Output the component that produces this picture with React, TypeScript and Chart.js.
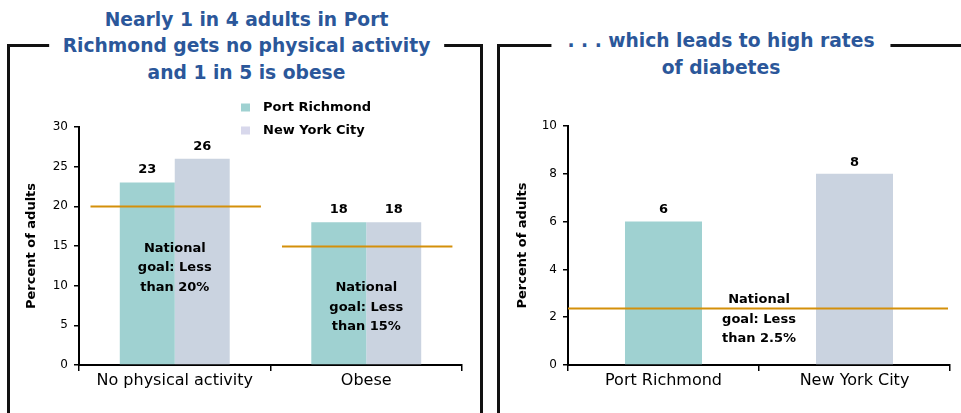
import React, { useEffect, useRef } from "react";
import { Chart, registerables } from "chart.js";

Chart.register(...registerables);

// ---- Data ----
const leftCategories = ["No physical activity", "Obese"];
const leftSeriesNames = ["Port Richmond", "New York City"];
const portRichmondLeft = [23, 18];
const newYorkCityLeft = [26, 18];
const leftGoals = [20, 15];
const leftGoalLabels = ["National\ngoal: Less\nthan 20%", "National\ngoal: Less\nthan 15%"];
const leftTitle = ["Nearly 1 in 4 adults in Port", "Richmond gets no physical activity", "and 1 in 5 is obese"];
const leftYMax = 30;
const leftYStep = 5;

const rightCategories = ["Port Richmond", "New York City"];
const diabetesValues = [6, 8];
const rightGoal = 2.4;
const rightGoalLabel = "National\ngoal: Less\nthan 2.5%";
const rightTitle = [". . . which leads to high rates", "of diabetes"];
const rightYMax = 10;
const rightYStep = 2;

const yAxisTitle = "Percent of adults";

// ---- Styles ----
const FONT = "'DejaVu Sans', sans-serif";
const TEAL = "#9fd1d1";
const GREY = "#cad3e0";
const LEGEND_GREY = "#d8d8ec";
const GOLD = "#d4900a";
const TITLE_BLUE = "#2b579a";

Chart.defaults.font.family = FONT;
Chart.defaults.color = "#000";

const annotPlugin = {
  id: "annot",
  afterDatasetsDraw(chart: any, _args: any, opts: any) {
    const { ctx, chartArea } = chart;
    const xs = chart.scales.x;
    const ys = chart.scales.y;
    ctx.save();
    // goal lines
    (opts.lines || []).forEach((l: any) => {
      const py = Math.round(ys.getPixelForValue(l.value)) + 0.5;
      const x0 = l.full ? chartArea.left : xs.getPixelForValue(l.start);
      const x1 = l.full ? chartArea.right - 2 : xs.getPixelForValue(l.end);
      ctx.strokeStyle = GOLD;
      ctx.lineWidth = 2;
      ctx.beginPath();
      ctx.moveTo(x0, py);
      ctx.lineTo(x1, py);
      ctx.stroke();
    });
    // value labels
    ctx.fillStyle = "#000";
    ctx.font = `bold 13px ${FONT}`;
    ctx.textAlign = "center";
    ctx.textBaseline = "middle";
    chart.data.datasets.forEach((ds: any, i: number) => {
      const meta = chart.getDatasetMeta(i);
      meta.data.forEach((el: any, j: number) => {
        ctx.fillText(String(ds.data[j]), el.x, el.y - opts.valueOffset);
      });
    });
    // goal texts
    (opts.texts || []).forEach((t: any) => {
      const cx = xs.getPixelForValue(t.index);
      const gy = ys.getPixelForValue(t.value);
      const lines = t.text.split("\n");
      lines.forEach((ln: string, k: number) => {
        ctx.fillText(ln, cx, gy + t.dy + k * 19.5);
      });
    });
    // legend
    if (opts.legend) {
      const lg = opts.legend;
      lg.names.forEach((n: string, k: number) => {
        const yy = lg.y + k * lg.gap;
        ctx.fillStyle = lg.colors[k];
        ctx.fillRect(lg.x, yy - 4, 9, 8);
        ctx.fillStyle = "#000";
        ctx.textAlign = "left";
        ctx.fillText(n, lg.x + 22, yy);
      });
    }
    ctx.restore();
  },
};

function makeScales(yMax: number, yStep: number, titlePad: number) {
  return {
    x: {
      grid: {
        display: true,
        drawOnChartArea: false,
        drawTicks: true,
        tickLength: 6,
        color: "#000",
        lineWidth: 1.5,
        offset: true,
      },
      border: { display: true, color: "#000", width: 2 },
      ticks: { color: "#000", font: { size: 16, family: FONT }, padding: 0, maxRotation: 0 },
      afterFit: (s: any) => {
        s.height = 48;
      },
    },
    y: {
      min: 0,
      max: yMax,
      grid: {
        display: true,
        drawOnChartArea: false,
        drawTicks: true,
        tickLength: 5,
        color: "#000",
        lineWidth: 1.5,
      },
      border: { display: true, color: "#000", width: 2 },
      ticks: { stepSize: yStep, color: "#000", font: { size: 12, family: FONT }, padding: 6 },
      title: {
        display: true,
        text: yAxisTitle,
        color: "#000",
        font: { size: 13, weight: "bold", family: FONT },
        padding: { top: titlePad, bottom: 0 },
      },
      afterFit: (s: any) => {
        s.width = 79;
      },
    },
  };
}

export default function App() {
  const leftRef = useRef<HTMLCanvasElement>(null);
  const rightRef = useRef<HTMLCanvasElement>(null);

  useEffect(() => {
    const left = new Chart(leftRef.current as HTMLCanvasElement, {
      type: "bar",
      data: {
        labels: leftCategories,
        datasets: [
          {
            label: leftSeriesNames[0],
            data: portRichmondLeft,
            backgroundColor: TEAL,
            categoryPercentage: 0.574,
            barPercentage: 1,
          },
          {
            label: leftSeriesNames[1],
            data: newYorkCityLeft,
            backgroundColor: GREY,
            categoryPercentage: 0.574,
            barPercentage: 1,
          },
        ],
      },
      options: {
        responsive: false,
        animation: false,
        devicePixelRatio: 1,
        layout: { padding: { left: 0, top: 127, right: 27, bottom: 0 } },
        plugins: {
          legend: { display: false },
          tooltip: { enabled: false },
          annot: {
            valueOffset: 12.5,
            lines: leftGoals.map((v, i) => ({ value: v, start: i - 0.44, end: i + 0.45 })),
            texts: leftGoals.map((v, i) => ({ value: v, index: i, text: leftGoalLabels[i], dy: 42 })),
            legend: { names: leftSeriesNames, colors: [TEAL, LEGEND_GREY], x: 241, y: 107.5, gap: 23 },
          },
        } as any,
        scales: makeScales(leftYMax, leftYStep, 24) as any,
      },
      plugins: [annotPlugin],
    });

    const right = new Chart(rightRef.current as HTMLCanvasElement, {
      type: "bar",
      data: {
        labels: rightCategories,
        datasets: [
          {
            label: "Diabetes",
            data: diabetesValues,
            backgroundColor: [TEAL, GREY],
            categoryPercentage: 0.8,
            barPercentage: 0.504,
          },
        ],
      },
      options: {
        responsive: false,
        animation: false,
        devicePixelRatio: 1,
        layout: { padding: { left: 0, top: 126, right: 11, bottom: 0 } },
        plugins: {
          legend: { display: false },
          tooltip: { enabled: false },
          annot: {
            valueOffset: 11.5,
            lines: [{ value: rightGoal, full: true }],
            texts: [{ value: rightGoal, index: 0.5, text: rightGoalLabel, dy: -8 }],
          },
        } as any,
        scales: makeScales(rightYMax, rightYStep, 26) as any,
      },
      plugins: [annotPlugin],
    });

    return () => {
      left.destroy();
      right.destroy();
    };
  }, []);

  const titleStyle: React.CSSProperties = {
    position: "absolute",
    transform: "translateX(-50%)",
    whiteSpace: "nowrap",
    textAlign: "center",
    fontFamily: FONT,
    fontWeight: "bold",
    fontSize: "18.7px",
    color: TITLE_BLUE,
    background: "#fff",
  };

  return (
    <div
      style={{
        position: "fixed",
        left: 0,
        top: 0,
        width: 961,
        height: 413,
        background: "#fff",
        overflow: "hidden",
      }}
    >
      <canvas ref={leftRef} width={489} height={413} style={{ position: "absolute", left: 0, top: 0 }} />
      <canvas ref={rightRef} width={472} height={413} style={{ position: "absolute", left: 489, top: 0 }} />
      <div
        style={{
          position: "absolute",
          left: 7,
          top: 44,
          width: 470,
          height: 420,
          borderLeft: "3px solid #111",
          borderRight: "3px solid #111",
          borderTop: "3px solid #111",
        }}
      />
      <div
        style={{
          position: "absolute",
          left: 497,
          top: 44,
          width: 480,
          height: 420,
          borderLeft: "3px solid #111",
          borderRight: "3px solid #111",
          borderTop: "3px solid #111",
        }}
      />
      <div style={{ ...titleStyle, left: 246.5, top: 6.75, lineHeight: "26.5px", padding: "0 14px" }}>
        {leftTitle.map((t, i) => (
          <div key={i}>{t}</div>
        ))}
      </div>
      <div style={{ ...titleStyle, left: 721, top: 26.5, lineHeight: "27px", padding: "0 16px" }}>
        {rightTitle.map((t, i) => (
          <div key={i}>{t}</div>
        ))}
      </div>
    </div>
  );
}
